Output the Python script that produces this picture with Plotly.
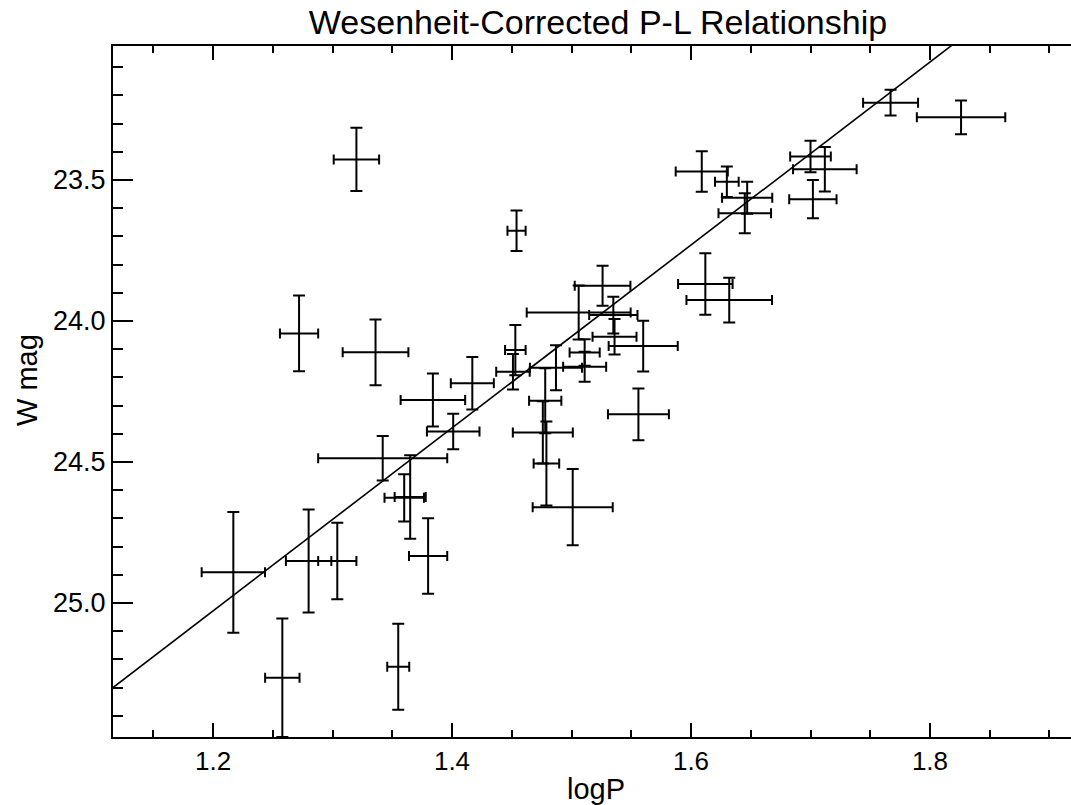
import plotly.graph_objects as go
import numpy as np

# ---- data ----
log_p = [1.320, 1.272, 1.336, 1.384, 1.417, 1.401, 1.342, 1.360, 1.365, 1.217,
         1.280, 1.304, 1.380, 1.258, 1.355, 1.453, 1.451, 1.454, 1.767, 1.826,
         1.700, 1.712, 1.702, 1.609, 1.630, 1.647, 1.645, 1.612, 1.632, 1.526,
         1.506, 1.535, 1.536, 1.560, 1.511, 1.511, 1.487, 1.478, 1.476, 1.479,
         1.501, 1.556]
w_mag = [23.427, 24.044, 24.111, 24.280, 24.221, 24.392, 24.487, 24.627, 24.624, 24.891,
         24.851, 24.851, 24.833, 25.265, 25.226, 24.103, 24.180, 23.680, 23.226, 23.278,
         23.417, 23.462, 23.568, 23.470, 23.506, 23.563, 23.618, 23.869, 23.926, 23.875,
         23.970, 23.979, 24.056, 24.089, 24.112, 24.162, 24.166, 24.283, 24.395, 24.505,
         24.660, 24.331]
err_logp = [0.019, 0.016, 0.0275, 0.027, 0.018, 0.022, 0.054, 0.0165, 0.013, 0.0265,
            0.019, 0.016, 0.016, 0.0144, 0.0092, 0.0086, 0.014, 0.0076, 0.023, 0.037,
            0.017, 0.0266, 0.0198, 0.0218, 0.0099, 0.021, 0.022, 0.0228, 0.0358, 0.0233,
            0.0435, 0.0202, 0.0184, 0.0289, 0.0126, 0.018, 0.0218, 0.0135, 0.0251, 0.0107,
            0.0335, 0.0255]
err_mag = [0.112, 0.134, 0.1165, 0.094, 0.093, 0.063, 0.079, 0.084, 0.148, 0.214,
           0.183, 0.136, 0.134, 0.210, 0.1525, 0.089, 0.063, 0.072, 0.0455, 0.060,
           0.056, 0.079, 0.068, 0.072, 0.054, 0.057, 0.071, 0.109, 0.079, 0.071,
           0.096, 0.065, 0.063, 0.090, 0.047, 0.053, 0.080, 0.115, 0.110, 0.149,
           0.135, 0.092]

fit_intercept = 28.921
fit_slope = -3.244

x_range = [1.1163, 1.918]
y_range = [25.475, 23.025]

fit_x = np.array(x_range)
fit_y = fit_intercept + fit_slope * fit_x

FONT = "Liberation Sans, Arial, Helvetica, sans-serif"

fig = go.Figure()
fig.add_trace(go.Scatter(
    x=fit_x, y=fit_y, mode="lines",
    line=dict(color="black", width=1.6),
    hoverinfo="skip", showlegend=False,
))
fig.add_trace(go.Scatter(
    x=log_p, y=w_mag, mode="markers",
    marker=dict(size=1, color="rgba(0,0,0,0)", line=dict(width=0)),
    error_x=dict(type="data", array=err_logp, color="black", thickness=2, width=5),
    error_y=dict(type="data", array=err_mag, color="black", thickness=2, width=6),
    showlegend=False,
))

fig.update_layout(
    width=1071, height=805,
    margin=dict(l=113, r=0, t=46, b=68),
    paper_bgcolor="white", plot_bgcolor="white",
    font=dict(family=FONT, color="black"),
    title=dict(text="Wesenheit-Corrected P-L Relationship",
               x=598 / 1071, xanchor="center", xref="container",
               y=1 - 22 / 805, yanchor="middle", yref="container",
               font=dict(size=34, family=FONT, color="black")),
    annotations=[
        dict(text="logP", xref="paper", yref="paper",
             x=(596 - 113) / 958, y=-(789 - 737) / 691,
             xanchor="center", yanchor="middle", showarrow=False,
             font=dict(size=29, family=FONT, color="black")),
        dict(text="W mag", xref="paper", yref="paper",
             x=-(113 - 27) / 958, y=(737 - 380) / 691,
             xanchor="center", yanchor="middle", showarrow=False, textangle=-90,
             font=dict(size=29, family=FONT, color="black")),
    ],
)
fig.update_xaxes(
    range=x_range, showgrid=False, zeroline=False,
    showline=True, linecolor="black", linewidth=2, mirror="ticks",
    tickmode="linear", tick0=1.2, dtick=0.2, tickformat=".1f",
    ticks="inside", ticklen=14, tickwidth=2, tickcolor="black",
    tickfont=dict(size=26, family=FONT, color="black"),
    minor=dict(tick0=1.2, dtick=0.05, ticks="inside", ticklen=7,
               tickwidth=2, tickcolor="black", showgrid=False),
)
fig.update_yaxes(
    range=y_range, showgrid=False, zeroline=False,
    showline=True, linecolor="black", linewidth=2, mirror=False,
    tickmode="linear", tick0=23.5, dtick=0.5, tickformat=".1f",
    ticks="inside", ticklen=20, tickwidth=2, tickcolor="black",
    tickfont=dict(size=27, family=FONT, color="black"),
    minor=dict(tick0=23.5, dtick=0.1, ticks="inside", ticklen=10,
               tickwidth=2, tickcolor="black", showgrid=False),
)

fig.write_html("out.html")
